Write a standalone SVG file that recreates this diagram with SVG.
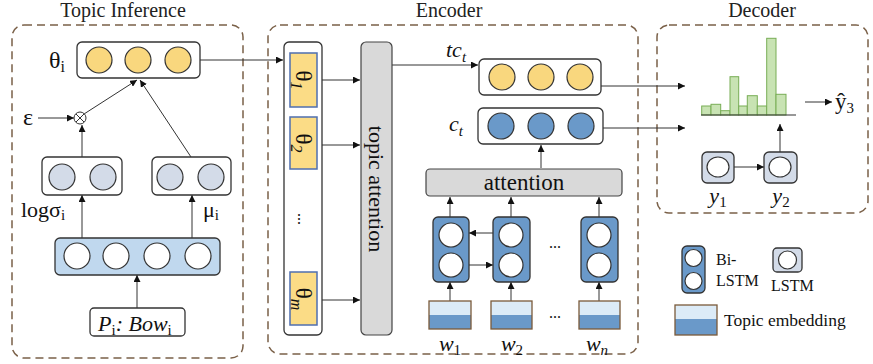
<svg xmlns="http://www.w3.org/2000/svg" width="873" height="364" viewBox="0 0 873 364">
<defs>
<marker id="ah" viewBox="0 0 10 10" refX="10" refY="5" markerWidth="7" markerHeight="7" orient="auto-start-reverse" markerUnits="userSpaceOnUse"><path d="M0,0 L10,5 L0,10 z" fill="#111"/></marker>
<style>
.panel{fill:none;stroke:#7a6048;stroke-width:1.5;stroke-dasharray:8 5}
.title{font-family:'Liberation Serif','Times New Roman','DejaVu Serif',serif;font-size:20px;fill:#222;text-anchor:middle}
.t{font-family:'Liberation Serif','Times New Roman','DejaVu Serif',serif;fill:#111}
.it{font-family:'Liberation Serif','Times New Roman','DejaVu Serif',serif;font-style:italic;fill:#111}
.box{fill:#fff;stroke:#333;stroke-width:1.3}
.yc{fill:#f9d77e;stroke:#333;stroke-width:1.2}
.gc{fill:#d3dbe8;stroke:#333;stroke-width:1.2}
.bc{fill:#6a99c9;stroke:#333;stroke-width:1.2}
.wc{fill:#fff;stroke:#333;stroke-width:1.2}
.lb{fill:#c0d8ee;stroke:#333;stroke-width:1.3}
.cell{fill:#6a99c9;stroke:#333;stroke-width:1.3}
.lstm{fill:#d3dbe8;stroke:#333;stroke-width:1.3}
.gray{fill:#d9d9d9;stroke:#444;stroke-width:1.2}
.yb{fill:#fbdc86;stroke:#4f6fb0;stroke-width:1.5}
.e1{fill:#dcebf7;stroke:none}
.e2{fill:#6a99c9;stroke:none}
.eo{fill:none;stroke:#7a5a3a;stroke-width:1.3}
.bar{fill:#c8e3b3;stroke:#78ad55;stroke-width:1}
.arr{stroke:#333;stroke-width:1;fill:none;marker-end:url(#ah)}
</style>
</defs>

<!-- Titles -->
<text class="title" x="123" y="17">Topic Inference</text>
<text class="title" x="449" y="17">Encoder</text>
<text class="title" x="762" y="17">Decoder</text>

<!-- Panels -->
<rect class="panel" x="12" y="25" width="231" height="333" rx="12"/>
<rect class="panel" x="268" y="25" width="370" height="329" rx="12"/>
<rect class="panel" x="657" y="25" width="211" height="188" rx="12"/>

<!-- Connectors -->
<g id="connectors">
<line class="arr" x1="200" y1="60" x2="283" y2="60"/>
<line class="arr" x1="84" y1="114" x2="137" y2="80"/>
<line class="arr" x1="191" y1="157" x2="140" y2="80"/>
<line class="arr" x1="38" y1="118" x2="74" y2="118"/>
<line class="arr" x1="82" y1="157" x2="82" y2="125"/>
<line class="arr" x1="82" y1="238" x2="82" y2="195"/>
<line class="arr" x1="192" y1="238" x2="192" y2="195"/>
<line class="arr" x1="137" y1="308" x2="137" y2="275"/>
<line class="arr" x1="322" y1="80" x2="360" y2="80"/>
<line class="arr" x1="322" y1="145" x2="360" y2="145"/>
<line class="arr" x1="322" y1="300" x2="360" y2="300"/>
<line class="arr" x1="392" y1="65" x2="478" y2="65"/>
<line class="arr" x1="601" y1="86" x2="685" y2="86"/>
<line class="arr" x1="603" y1="128" x2="685" y2="128"/>
<line class="arr" x1="541" y1="168" x2="541" y2="145"/>
<line class="arr" x1="450" y1="217" x2="450" y2="197"/>
<line class="arr" x1="511" y1="217" x2="511" y2="197"/>
<line class="arr" x1="599" y1="217" x2="599" y2="197"/>
<line class="arr" x1="493" y1="233" x2="469" y2="233"/>
<line class="arr" x1="469" y1="265" x2="493" y2="265"/>
<line class="arr" x1="450" y1="301" x2="450" y2="282"/>
<line class="arr" x1="511" y1="301" x2="511" y2="282"/>
<line class="arr" x1="599" y1="301" x2="599" y2="282"/>
<line class="arr" x1="805" y1="102" x2="832" y2="102"/>
<line class="arr" x1="734" y1="167" x2="764" y2="167"/>
<line class="arr" x1="780" y1="152" x2="780" y2="124"/>
</g>

<!-- Topic inference nodes -->
<g id="theta-i">
<rect class="box" x="77" y="42" width="123" height="36" rx="5"/>
<circle class="yc" cx="99" cy="60" r="13"/>
<circle class="yc" cx="138" cy="60" r="13"/>
<circle class="yc" cx="178" cy="60" r="13"/>
<text class="t" x="49" y="68" font-size="24">θ<tspan font-size="16" dy="4">i</tspan></text>
</g>
<g id="epsilon">
<text class="t" x="23" y="125" font-size="24">ε</text>
</g>
<g id="otimes">
<circle cx="80" cy="118" r="6" fill="#fff" stroke="#333" stroke-width="1"/>
<path d="M76,114 L84,122 M84,114 L76,122" stroke="#333" stroke-width="1"/>
</g>
<g id="logsigma">
<rect class="box" x="42" y="157" width="80" height="38" rx="5"/>
<circle class="gc" cx="62" cy="177" r="13"/>
<circle class="gc" cx="103" cy="177" r="13"/>
<text class="t" x="21" y="217" font-size="22">logσ<tspan font-size="15" dy="3">i</tspan></text>
</g>
<g id="mu">
<rect class="box" x="152" y="157" width="79" height="38" rx="5"/>
<circle class="gc" cx="170" cy="177" r="13"/>
<circle class="gc" cx="211" cy="177" r="13"/>
<text class="t" x="203" y="217" font-size="22">μ<tspan font-size="15" dy="3">i</tspan></text>
</g>
<g id="hidden">
<rect class="lb" x="55" y="238" width="165" height="37" rx="5"/>
<circle class="wc" cx="77" cy="256" r="13"/>
<circle class="wc" cx="116" cy="256" r="13"/>
<circle class="wc" cx="157" cy="256" r="13"/>
<circle class="wc" cx="198" cy="256" r="13"/>
</g>
<g id="bow">
<rect class="box" x="90" y="308" width="95" height="28" rx="4"/>
<text class="it" x="98" y="331" font-size="22">P<tspan font-style="normal" font-size="15" dy="4">i</tspan><tspan dy="-4">: Bow</tspan><tspan font-style="normal" font-size="15" dy="4">i</tspan></text>
</g>

<!-- Encoder -->
<g id="theta-column">
<rect class="box" x="284" y="42" width="38" height="293" rx="5"/>
<rect class="yb" x="290" y="53" width="27" height="54"/>
<rect class="yb" x="290" y="117" width="27" height="52"/>
<rect class="yb" x="290" y="272" width="27" height="53"/>
<text class="t" font-size="23" transform="translate(296,80) rotate(90)" text-anchor="middle">θ<tspan font-size="16" dy="5" font-style="italic">1</tspan></text>
<text class="t" font-size="23" transform="translate(296,143) rotate(90)" text-anchor="middle">θ<tspan font-size="16" dy="5" font-style="italic">2</tspan></text>
<text class="t" font-size="23" transform="translate(296,299) rotate(90)" text-anchor="middle">θ<tspan font-size="16" dy="5" font-style="italic">m</tspan></text>
<text class="t" font-size="16" transform="translate(298,219) rotate(90)" text-anchor="middle">...</text>
</g>
<g id="topic-attention">
<rect class="gray" x="361" y="42" width="31" height="293" rx="5"/>
<text class="t" font-size="22" transform="translate(369,189) rotate(90)" text-anchor="middle">topic attention</text>
</g>
<g id="tc">
<rect class="box" x="479" y="59" width="122" height="36" rx="5"/>
<circle class="yc" cx="502" cy="77" r="13"/>
<circle class="yc" cx="541" cy="77" r="13"/>
<circle class="yc" cx="580" cy="77" r="13"/>
<text class="it" x="446" y="57" font-size="22">tc<tspan font-size="15" dy="5">t</tspan></text>
</g>
<g id="ct">
<rect class="box" x="478" y="108" width="125" height="36" rx="5"/>
<circle class="bc" cx="501" cy="126" r="13"/>
<circle class="bc" cx="541" cy="126" r="13"/>
<circle class="bc" cx="581" cy="126" r="13"/>
<text class="it" x="449" y="131" font-size="22">c<tspan font-size="15" dy="5">t</tspan></text>
</g>
<g id="attention">
<rect class="gray" x="426" y="169" width="196" height="27" rx="4"/>
<text class="t" x="524" y="190" font-size="23" text-anchor="middle">attention</text>
</g>
<g id="bilstm-1">
<rect class="cell" x="433" y="217" width="36" height="65" rx="5"/>
<circle class="wc" cx="451" cy="235" r="12"/>
<circle class="wc" cx="451" cy="265" r="12"/>
</g>
<g id="bilstm-2">
<rect class="cell" x="493" y="217" width="37" height="65" rx="5"/>
<circle class="wc" cx="511" cy="235" r="12"/>
<circle class="wc" cx="511" cy="265" r="12"/>
</g>
<g id="bilstm-n">
<rect class="cell" x="581" y="217" width="37" height="65" rx="5"/>
<circle class="wc" cx="599" cy="235" r="12"/>
<circle class="wc" cx="599" cy="265" r="12"/>
</g>
<text class="t" x="555" y="248" font-size="16" text-anchor="middle">...</text>
<text class="t" x="555" y="318" font-size="16" text-anchor="middle">...</text>
<g id="emb-1">
<rect class="e1" x="429" y="301" width="42" height="14"/>
<rect class="e2" x="429" y="315" width="42" height="14"/>
<rect class="eo" x="429" y="301" width="42" height="28"/>
<text class="it" x="450" y="351" font-size="22" text-anchor="middle">w<tspan font-size="15" dy="4" font-style="normal">1</tspan></text>
</g>
<g id="emb-2">
<rect class="e1" x="491" y="301" width="41" height="14"/>
<rect class="e2" x="491" y="315" width="41" height="14"/>
<rect class="eo" x="491" y="301" width="41" height="28"/>
<text class="it" x="512" y="351" font-size="22" text-anchor="middle">w<tspan font-size="15" dy="4" font-style="normal">2</tspan></text>
</g>
<g id="emb-n">
<rect class="e1" x="579" y="301" width="41" height="14"/>
<rect class="e2" x="579" y="315" width="41" height="14"/>
<rect class="eo" x="579" y="301" width="41" height="28"/>
<text class="it" x="597" y="351" font-size="22" text-anchor="middle">w<tspan font-size="15" dy="4">n</tspan></text>
</g>

<!-- Decoder -->
<g id="histogram">
<rect class="bar" x="701.7" y="106" width="9.3" height="9"/>
<rect class="bar" x="711" y="104.3" width="9.7" height="10.7"/>
<rect class="bar" x="720.7" y="110.7" width="9.3" height="4.3"/>
<rect class="bar" x="730" y="76.7" width="8.7" height="38.3"/>
<rect class="bar" x="738.7" y="106" width="8.6" height="9"/>
<rect class="bar" x="747.3" y="95.7" width="10" height="19.3"/>
<rect class="bar" x="757.3" y="106" width="9.4" height="9"/>
<rect class="bar" x="766.7" y="38.3" width="9.3" height="76.7"/>
<rect class="bar" x="776" y="94.3" width="10" height="20.7"/>
<line x1="701" y1="115" x2="796" y2="115" stroke="#333" stroke-width="1.2"/>
</g>
<g id="yhat">
<text class="t" x="835" y="109" font-size="23">ŷ<tspan font-size="15" dy="4">3</tspan></text>
</g>
<g id="lstm-y1">
<rect class="lstm" x="702" y="152" width="32" height="31" rx="5"/>
<ellipse class="wc" cx="718" cy="167" rx="11" ry="10"/>
<text class="it" x="718" y="203" font-size="22" text-anchor="middle">y<tspan font-size="15" dy="4" font-style="normal">1</tspan></text>
</g>
<g id="lstm-y2">
<rect class="lstm" x="764" y="152" width="33" height="31" rx="5"/>
<ellipse class="wc" cx="780" cy="167" rx="11" ry="10"/>
<text class="it" x="781" y="203" font-size="22" text-anchor="middle">y<tspan font-size="15" dy="4" font-style="normal">2</tspan></text>
</g>

<!-- Legend -->
<g id="legend-bilstm">
<rect class="cell" x="682" y="246" width="23" height="47" rx="5"/>
<circle class="wc" cx="693.5" cy="258" r="8.5"/>
<circle class="wc" cx="693.5" cy="281" r="8.5"/>
<text class="t" x="716" y="265" font-size="16">Bi-</text>
<text class="t" x="716" y="286" font-size="16">LSTM</text>
</g>
<g id="legend-lstm">
<rect class="lstm" x="773" y="248" width="29" height="24" rx="4"/>
<circle class="wc" cx="787.5" cy="260" r="9"/>
<text class="t" x="771" y="291" font-size="16">LSTM</text>
</g>
<g id="legend-emb">
<rect class="e1" x="675" y="305" width="42" height="14"/>
<rect class="e2" x="675" y="319" width="42" height="16"/>
<rect class="eo" x="675" y="305" width="42" height="30"/>
<text class="t" x="724" y="326" font-size="17.5">Topic embedding</text>
</g>
</svg>
